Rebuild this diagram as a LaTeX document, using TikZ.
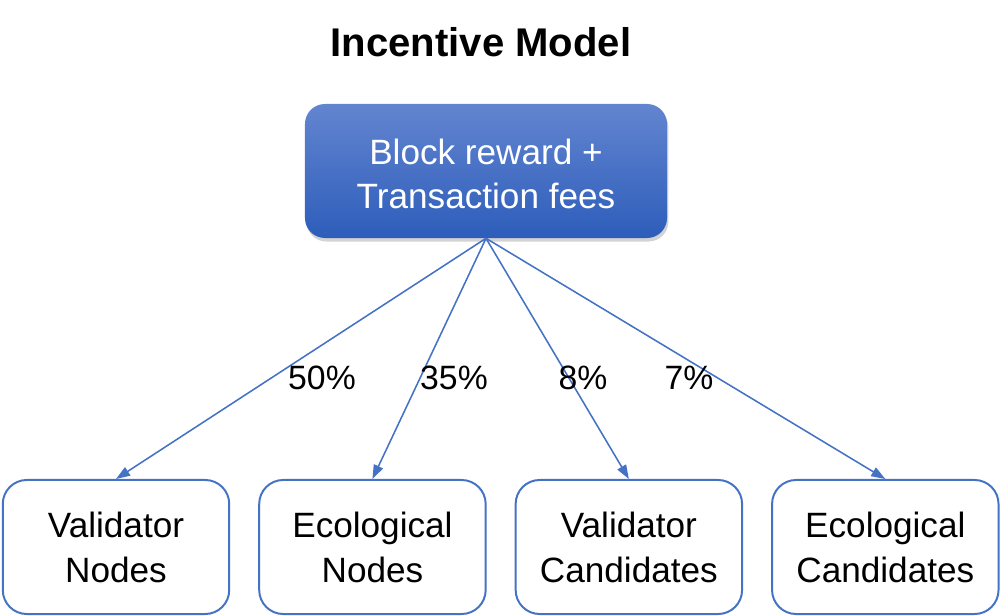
\documentclass[tikz,border=0pt]{standalone}
\usepackage{fontspec}
\setmainfont{Liberation Sans}
\usetikzlibrary{positioning,arrows.meta,shadows}
\definecolor{lineblue}{HTML}{4472C4}
\definecolor{topblue}{HTML}{6385D0}
\definecolor{botblue}{HTML}{2D5DBA}

\begin{document}
\begin{tikzpicture}[x=0.025cm, y=-0.025cm, >={Triangle[length=10pt,width=7pt]}, node distance=0.7cm,
  reward/.style={rectangle, rounded corners=0.5cm, top color=topblue, bottom color=botblue, draw=none,
    text=white, align=center, minimum width=9.05cm, minimum height=3.35cm,
    font=\fontsize{25}{31.5}\selectfont, text height=54pt,
    drop shadow={shadow xshift=1pt, shadow yshift=-2.5pt, opacity=0.35}},
  share/.style={rectangle, rounded corners=0.6cm, draw=lineblue, line width=1.4pt, fill=white,
    align=center, minimum width=5.66cm, minimum height=3.35cm, inner sep=0pt,
    font=\fontsize{25}{32}\selectfont},
  pct/.style={font=\fontsize{24}{28}\selectfont, inner sep=1pt},
  flow/.style={->, color=lineblue, line width=1.1pt}]
\useasboundingbox (0,0) rectangle (1001,616);

\node[font=\fontsize{28.5}{32}\selectfont\bfseries] (title) at (481,42) {Incentive Model};

\node[reward] (reward) at (486,171) {Block reward +\\Transaction fees};

\node[share] (vn) at (116,547) {Validator\\Nodes};
\node[share, right=of vn] (en) {Ecological\\Nodes};
\node[share, right=of en] (vc) {Validator\\Candidates};
\node[share, right=of vc] (ec) {Ecological\\Candidates};

\draw[flow] (reward.south) -- (vn.north);
\draw[flow] (reward.south) -- (en.north);
\draw[flow] (reward.south) -- (vc.north);
\draw[flow] (reward.south) -- (ec.north);

\node[pct] (p50) at (322,378) {50\%};
\node[pct] (p35) at (454,378) {35\%};
\node[pct] (p8) at (583,378) {8\%};
\node[pct] (p7) at (689,378) {7\%};
\end{tikzpicture}
\end{document}
